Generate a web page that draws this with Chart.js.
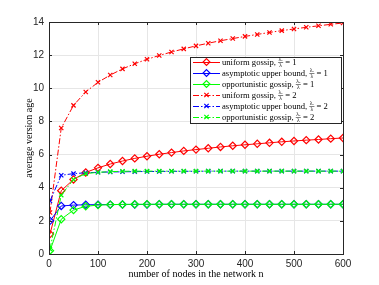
<!DOCTYPE html>
<html><head><meta charset="utf-8">
<script src="https://cdn.jsdelivr.net/npm/chart.js@4"></script>
<style>html,body{margin:0;padding:0;background:#fff}#wrap{width:379px;height:285px;position:relative}</style>
</head><body><div id="wrap"><canvas id="c" width="379" height="285"></canvas></div>
<script>
const nodes = [2,25,50,75,100,125,150,175,200,225,250,275,300,325,350,375,400,425,450,475,500,525,550,575,600];
const uniform1 = [1.2,3.82,4.5,4.92,5.2,5.43,5.61,5.77,5.9,6.02,6.12,6.22,6.3,6.38,6.46,6.53,6.59,6.65,6.71,6.77,6.82,6.87,6.91,6.96,7.0];
const asym1 = [2.0,2.9,2.95,2.97,2.98,2.98,2.99,2.99,2.99,3,3,3,3,3,3,3,3,3,3,3,3,3,3,3,3];
const opp1 = [0.2,2.1,2.65,2.88,2.95,2.98,2.99,3,3,3,3,3,3,3,3,3,3,3,3,3,3,3,3,3,3];
const uniform2 = [2.5,7.6,8.97,9.78,10.36,10.8,11.17,11.48,11.75,11.98,12.19,12.38,12.56,12.72,12.87,13.0,13.13,13.25,13.37,13.48,13.58,13.68,13.77,13.86,13.94];
const asym2 = [3.2,4.75,4.85,4.9,4.93,4.95,4.96,4.97,4.98,4.98,4.99,4.99,4.99,5,5,5,5,5,5,5,5,5,5,5,5];
const opp2 = [0.3,3.55,4.5,4.85,4.93,4.97,4.99,5,5,5,5,5,5,5,5,5,5,5,5,5,5,5,5,5,5];
const xTicks = [0,100,200,300,400,500,600];
const yTicks = [0,2,4,6,8,10,12,14];
const labels = ['uniform gossip, ','asymptotic upper bound, ','opportunistic gossip, ','uniform gossip, ','asymptotic upper bound, ','opportunistic gossip, '];
const ratios = ['1','1','1','2','2','2'];

const RED='#ff0000', BLUE='#0000ff', GREEN='#00ff00';
const DASHDOT=[6,2,1.5,2];
function pts(arr){return nodes.map((n,i)=>({x:n,y:arr[i]}));}
function ds(arr,color,solid,order){
  return {data:pts(arr),borderColor:color,backgroundColor:'rgba(0,0,0,0)',borderWidth:1,
    borderDash:solid?[]:DASHDOT,pointStyle:solid?'rectRot':'crossRot',pointRadius:solid?3.6:3,
    pointBorderWidth:1.2,pointBorderColor:color,pointBackgroundColor:'rgba(0,0,0,0)',order:order,tension:0,fill:false};
}
const sets=[ds(uniform1,RED,true,6),ds(asym1,BLUE,true,5),ds(opp1,GREEN,true,4),
  ds(uniform2,RED,false,3),ds(asym2,BLUE,false,2),ds(opp2,GREEN,false,1)];

const L=49,R=343,T=22,B=254,W=379,H=285;
const frame={id:'frame',afterDatasetsDraw(ch){
  const c=ch.ctx,a=ch.chartArea,xs=ch.scales.x,ys=ch.scales.y;
  c.save();c.strokeStyle='#262626';c.lineWidth=1;
  c.strokeRect(Math.round(a.left)+0.5,Math.round(a.top)+0.5,Math.round(a.right-a.left),Math.round(a.bottom-a.top));
  c.beginPath();
  xTicks.forEach(v=>{const x=Math.round(xs.getPixelForValue(v))+0.5;c.moveTo(x,a.bottom);c.lineTo(x,a.bottom-3);c.moveTo(x,a.top);c.lineTo(x,a.top+3);});
  yTicks.forEach(v=>{const y=Math.round(ys.getPixelForValue(v))+0.5;c.moveTo(a.left,y);c.lineTo(a.left+3,y);c.moveTo(a.right,y);c.lineTo(a.right-3,y);});
  c.stroke();
  // legend
  const lx=190.5,ly=57.5,lw=151,lh=66;
  c.fillStyle='#fff';c.fillRect(lx,ly,lw,lh);
  c.strokeStyle='#262626';c.strokeRect(lx,ly,lw,lh);
  const cols=[RED,BLUE,GREEN,RED,BLUE,GREEN];
  for(let i=0;i<6;i++){
    const y=62+i*11, solid=i<3;
    c.strokeStyle=cols[i];c.lineWidth=1;c.setLineDash(solid?[]:DASHDOT);
    c.beginPath();c.moveTo(193,y+0.5);c.lineTo(220,y+0.5);c.stroke();c.setLineDash([]);
    c.lineWidth=1.2;c.beginPath();
    if(solid){const r=3.4;c.moveTo(206.5,y-r);c.lineTo(206.5+r,y);c.lineTo(206.5,y+r);c.lineTo(206.5-r,y);c.closePath();}
    else{const r=2.2;c.moveTo(206.5-r,y-r);c.lineTo(206.5+r,y+r);c.moveTo(206.5+r,y-r);c.lineTo(206.5-r,y+r);}
    c.stroke();
    c.fillStyle='#000';c.textBaseline='middle';c.textAlign='left';
    c.font='8.6px "Liberation Serif", serif';
    let x=222;c.fillText(labels[i],x,y+0.5);x+=c.measureText(labels[i]).width;
    c.font='5.5px "Liberation Serif", serif';
    const num='λₑ',den='λ';const nw=c.measureText(num).width,dw=c.measureText(den).width;const fw=Math.max(nw,dw)+1;
    c.fillText(num,x+(fw-nw)/2,y-2.8);c.fillText(den,x+(fw-dw)/2,y+3.6);
    c.strokeStyle='#000';c.lineWidth=0.5;c.beginPath();c.moveTo(x,y+0.5);c.lineTo(x+fw,y+0.5);c.stroke();
    x+=fw;
    c.font='8.6px "Liberation Serif", serif';
    c.fillText(' = '+ratios[i],x,y+0.5);
  }
  c.restore();
}};

new Chart(document.getElementById('c'),{
  type:'line',
  data:{datasets:sets},
  options:{responsive:false,animation:false,
    layout:{padding:{left:0,right:W-R,top:T,bottom:0}},
    plugins:{legend:{display:false},tooltip:{enabled:false}},
    scales:{
      x:{type:'linear',min:0,max:600,
        afterFit(s){s.height=H-B;},
        afterBuildTicks(s){s.ticks=xTicks.map(v=>({value:v}));},
        grid:{color:'#e6e6e6',drawTicks:false,lineWidth:1},border:{display:false},
        ticks:{color:'#262626',font:{family:'"Liberation Sans", Arial, sans-serif',size:10},padding:4,maxRotation:0},
        title:{display:true,text:'number of nodes in the network n',color:'#000',font:{family:'"Liberation Serif", serif',size:10},padding:{top:0,bottom:5}}},
      y:{type:'linear',min:0,max:14,
        afterFit(s){s.width=L;},
        afterBuildTicks(s){s.ticks=yTicks.map(v=>({value:v}));},
        grid:{color:'#e6e6e6',drawTicks:false,lineWidth:1},border:{display:false},
        ticks:{color:'#262626',font:{family:'"Liberation Sans", Arial, sans-serif',size:10},padding:5},
        title:{display:true,text:'average version age',color:'#000',font:{family:'"Liberation Serif", serif',size:10},padding:{top:23,bottom:0}}}
    }
  },
  plugins:[frame]
});
</script></body></html>
